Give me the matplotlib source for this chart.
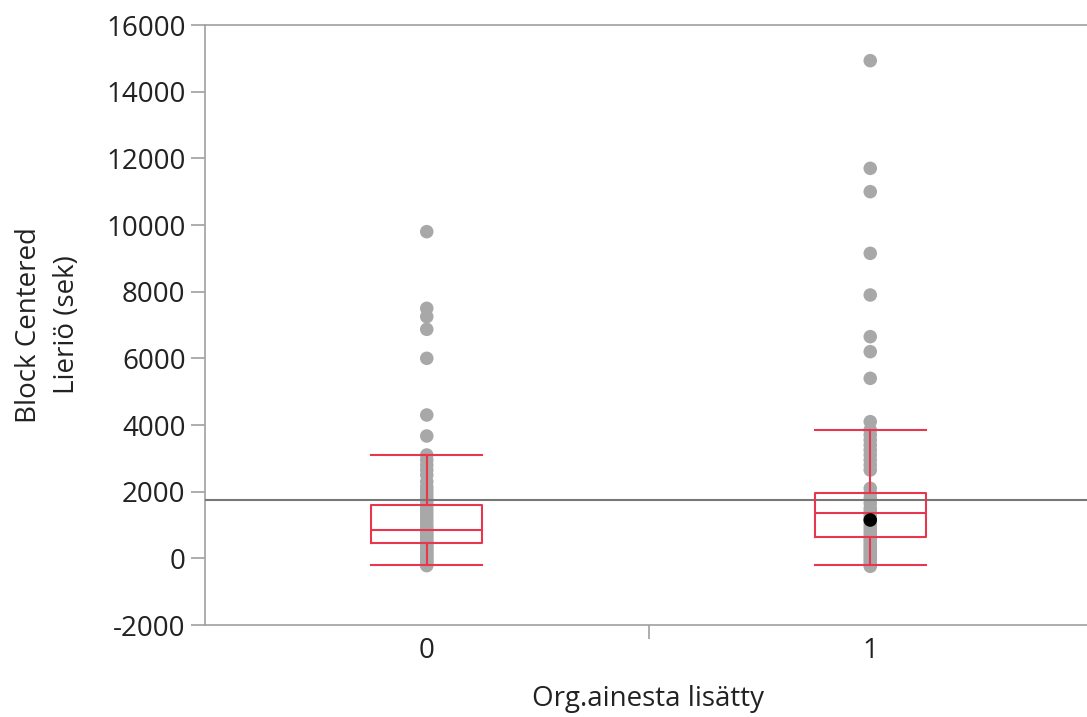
import numpy as np
import matplotlib
matplotlib.use('Agg')
from matplotlib import pyplot as plt
from matplotlib.ticker import FixedLocator

plt.rcParams['font.family'] = ['Open Sans', 'DejaVu Sans']
plt.rcParams['axes.unicode_minus'] = False

# values (seconds)
group_labels = ['0', '1']
group0 = [9800, 7500, 7250, 6870, 6000, 4300, 3670, 3100, 2950, 2800, 2650,
          2500, 2300, 2150, 2050, 1950, 1850, 1750, 1650, 1550, 1450, 1350,
          1250, 1150, 1050, 950, 880, 820, 760, 700, 640, 580, 520, 470, 420,
          370, 320, 270, 220, 170, 120, 70, 20, -30, -80, -130, -180, -220]
group1 = [14930, 11700, 11000, 9150, 7900, 6650, 6200, 5400, 4100, 3850, 3700,
          3550, 3400, 3250, 3100, 2950, 2800, 2650, 2100, 1950, 1800, 1650,
          1500, 1400, 1300, 1200, 1100, 1000, 900, 800, 700, 620, 540, 460,
          380, 300, 220, 140, 60, -20, -100, -180, -240]
highlight = [(1, 1150)]

# box statistics as drawn
q1 = [460, 640]
med = [850, 1360]
q3 = [1600, 1960]
wlo = [-200, -200]
whi = [3100, 3850]
grand_mean = 1750

red = '#e8364e'
grey_pt = '#a8a8a8'
axis_col = '#a0a0a0'
fs = 20

fig = plt.figure(figsize=(10.87, 7.17), dpi=100)
ax = fig.add_axes([205/1087, 1-625/717, 887/1087, 600/717])

for i, vals in enumerate([group0, group1]):
    ax.scatter(np.full(len(vals), i), vals, s=95, color=grey_pt, edgecolors='none', zorder=2)
for gx, gy in highlight:
    ax.scatter([gx], [gy], s=95, color='black', edgecolors='none', zorder=5)

ax.axhline(grand_mean, color='#777777', lw=1.5, zorder=3)

stats = []
for i in range(2):
    stats.append(dict(q1=q1[i], med=med[i], q3=q3[i], whislo=wlo[i], whishi=whi[i], fliers=[]))
ax.bxp(stats, positions=[0, 1], widths=0.25, showfliers=False, manage_ticks=False,
       boxprops=dict(color=red, lw=1.5), medianprops=dict(color=red, lw=1.5),
       whiskerprops=dict(color=red, lw=1.5), capprops=dict(color=red, lw=1.5),
       capwidths=0.25, zorder=4)

ax.set_xlim(-0.5, 1.5)
ax.set_ylim(-2000, 16000)
ax.set_yticks(np.arange(-2000, 16001, 2000))
ax.set_xticks([0, 1])
ax.set_xticklabels(group_labels)
ax.xaxis.set_minor_locator(FixedLocator([0.5]))

for s in ['left', 'top', 'bottom']:
    ax.spines[s].set_color(axis_col)
    ax.spines[s].set_linewidth(1.2)
ax.spines['right'].set_visible(False)

ax.tick_params(axis='y', length=10, width=1.2, color=axis_col, pad=4, labelsize=fs, labelcolor='#222222')
ax.tick_params(axis='x', which='major', length=0, pad=9, labelsize=fs, labelcolor='#222222')
ax.tick_params(axis='x', which='minor', length=10, width=1.2, color=axis_col)

ax.set_xlabel('Org.ainesta lisätty', fontsize=fs, color='#222222', labelpad=14)
ax.set_ylabel('Block Centered\nLieriö (sek)', fontsize=fs, color='#222222', labelpad=18,
              linespacing=1.5)

fig.savefig('out.png', dpi=100)
